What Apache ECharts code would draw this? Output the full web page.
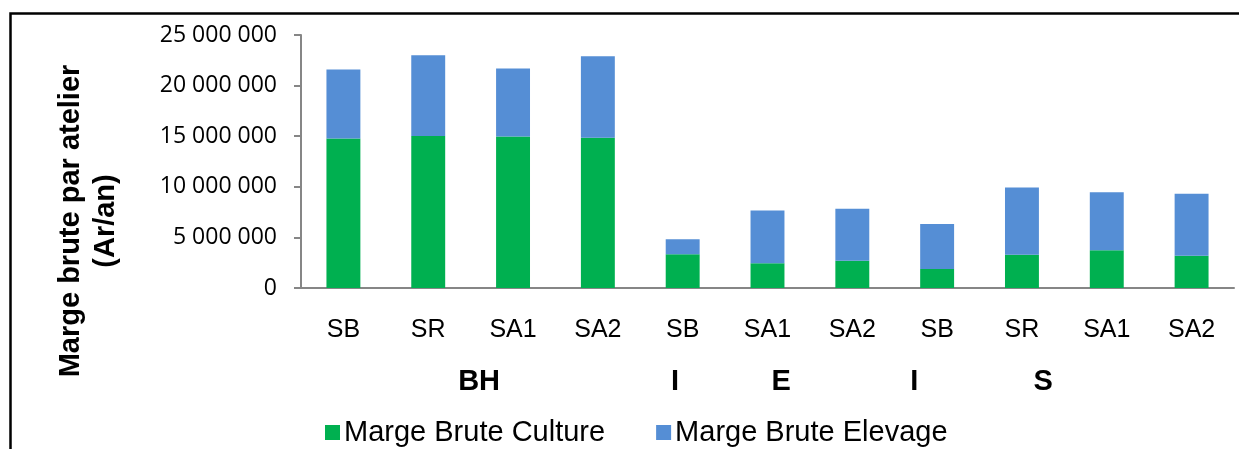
<!DOCTYPE html>
<html>
<head>
<meta charset="utf-8">
<script src="https://cdn.jsdelivr.net/npm/echarts@6/dist/echarts.min.js"></script>
<style>
  html, body { margin: 0; padding: 0; background: #fff; }
  #chart { width: 1239px; height: 449px; }
</style>
</head>
<body>
<div id="chart"></div>
<script>
// categories (lower level) and the group labels under them
const categories = ['SB', 'SR', 'SA1', 'SA2', 'SB', 'SA1', 'SA2', 'SB', 'SR', 'SA1', 'SA2']
const groupNames = ['BH', 'I', 'E', 'I', 'S']
// where each group label sits, in category units from the left of the axis
const groupAt = [2.1, 4.41, 5.66, 7.23, 8.75]

// values (Ar/an)
const culture = [14780000, 15030000, 14970000, 14840000, 3330000, 2440000, 2690000, 1880000, 3290000, 3720000, 3190000]
const elevage = [6820000, 7970000, 6720000, 8060000, 1480000, 5230000, 5140000, 4440000, 6650000, 5730000, 6120000]

const seriesNames = ['Marge Brute Culture', 'Marge Brute Elevage']
const yMax = 25000000
const yStep = 5000000

const grid = { left: 301, right: 5, top: 35, bottom: 161 }

function fmt(v) {
  return String(v).replace(/\B(?=(\d{3})+(?!\d))/g, ' ')
}

const chart = echarts.init(document.getElementById('chart'))

const plotW = 1239 - grid.left - grid.right
const catW = plotW / categories.length

chart.setOption({
  animation: false,
  grid: grid,
  legend: {
    data: seriesNames,
    left: 320,
    top: 413,
    itemWidth: 15,
    itemHeight: 15,
    itemGap: 51,
    icon: 'rect',
    textStyle: { fontFamily: 'Liberation Sans', fontSize: 29, color: '#000', padding: [0, 0, 0, -1] }
  },
  xAxis: {
    type: 'category',
    data: categories,
    axisLine: { lineStyle: { color: '#868686', width: 2 } },
    axisTick: { length: 8, lineStyle: { color: '#868686', width: 2 } },
    axisLabel: { fontFamily: 'Liberation Sans', fontSize: 25, color: '#000', margin: 30, interval: 0 }
  },
  yAxis: {
    type: 'value',
    min: 0,
    max: yMax,
    interval: yStep,
    splitLine: { show: false },
    axisLine: { show: true, lineStyle: { color: '#868686', width: 2 } },
    axisTick: { show: true, length: 7, lineStyle: { color: '#868686', width: 2 } },
    axisLabel: {
      fontFamily: 'Open Sans',
      fontSize: 23,
      color: '#000',
      margin: 24,
      formatter: fmt
    }
  },
  graphic: [
    {
      type: 'rect',
      shape: { x: 10.5, y: 13.5, width: 1300, height: 500 },
      style: { fill: 'none', stroke: '#000', lineWidth: 2.5 },
      silent: true
    },
    {
      type: 'text',
      x: 88,
      y: 221,
      rotation: Math.PI / 2,
      style: {
        text: 'Marge brute par atelier\n(Ar/an)',
        font: 'bold 29px "Liberation Sans"',
        fill: '#000',
        align: 'center',
        verticalAlign: 'middle',
        lineHeight: 35
      }
    }
  ].concat(groupNames.map((name, i) => ({
    type: 'text',
    x: grid.left + groupAt[i] * catW,
    y: 382,
    style: {
      text: name,
      font: 'bold 29px "Liberation Sans"',
      fill: '#000',
      align: 'center',
      verticalAlign: 'middle'
    }
  }))),
  series: [
    {
      name: seriesNames[0],
      type: 'bar',
      stack: 'total',
      barWidth: '40%',
      itemStyle: { color: '#00B050' },
      data: culture
    },
    {
      name: seriesNames[1],
      type: 'bar',
      stack: 'total',
      barWidth: '40%',
      itemStyle: { color: '#558ED5' },
      data: elevage
    }
  ]
})
</script>
</body>
</html>
